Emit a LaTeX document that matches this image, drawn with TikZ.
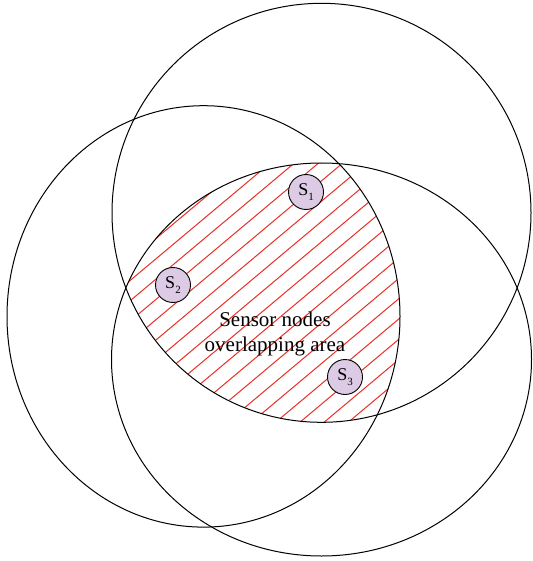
\documentclass[tikz,border=0pt]{standalone}
\usepackage{fontspec}
\setmainfont{Liberation Serif}
\definecolor{sensorfill}{RGB}{221,202,228}
\definecolor{hatchred}{RGB}{232,48,38}
\begin{document}
\begin{tikzpicture}[x=1pt,y=-1pt,
  zone/.style={draw=black,line width=1pt},
  sensor/.style={circle,draw=black,line width=0.9pt,fill=sensorfill,minimum size=35pt,inner sep=0pt,font=\fontsize{18}{18}\selectfont},
  hatchline/.style={draw=hatchred,line width=1pt},
  areatext/.style={align=center,font=\fontsize{21}{25}\selectfont,inner sep=0pt}]
\useasboundingbox (0,0) rectangle (532,561);
% hatching of the common area
\begin{scope}
  \clip (321.5,212.8) circle[radius=209.5pt];
  \clip (203.5,316.4) ellipse[x radius=196.5pt,y radius=210.7pt];
  \clip (321.5,359.5) ellipse[x radius=210pt,y radius=196.5pt];
  \foreach \k in {-25,...,25} {
    \draw[hatchline] ({300+24.2*\k+334},0) -- ({300+24.2*\k-335},561);
  }
\end{scope}
% coverage regions
\draw[zone] (321.5,212.8) circle[radius=209.5pt];
\draw[zone] (203.5,316.4) ellipse[x radius=196.5pt,y radius=210.7pt];
\draw[zone] (321.5,359.5) ellipse[x radius=210pt,y radius=196.5pt];
% sensors
\newcommand{\subidx}[1]{\raisebox{-0.3em}{\fontsize{11}{11}\selectfont #1}}
\node[sensor] (s1) at (306,192) {S\subidx{1}};
\node[sensor] (s2) at (173,285) {S\subidx{2}};
\node[sensor] (s3) at (345,377) {S\subidx{3}};
\node[areatext] (label) at (275,334) {Sensor nodes\\overlapping area};
\end{tikzpicture}
\end{document}
